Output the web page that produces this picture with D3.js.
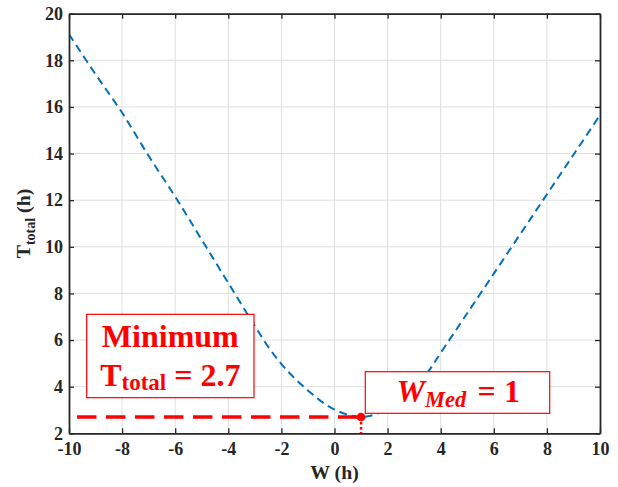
<!DOCTYPE html>
<html>
<head>
<meta charset="utf-8">
<script src="https://cdn.jsdelivr.net/npm/d3@7/dist/d3.min.js"></script>
<style>
  html, body { margin: 0; padding: 0; background: #fff; }
  svg { display: block; }
</style>
</head>
<body>
<svg id="chart" width="618" height="487"></svg>
<script>
// ---- data ----
const wValues = [-10, -9, -8, -7, -6, -5, -4, -3, -2.5, -2, -1.5, -1, -0.5, 0, 0.5, 1, 1.5, 2, 2.5, 3, 3.5, 4, 5, 6, 7, 8, 9, 10];
const tValues = [19.12, 17.4, 15.75, 13.9, 12.15, 10.3, 8.45, 6.6, 5.72, 4.97, 4.36, 3.84, 3.37, 3.02, 2.8, 2.7, 2.8, 3.05, 3.42, 3.95, 4.6, 5.45, 7.15, 8.85, 10.55, 12.25, 13.95, 15.65];
const xTicks = [-10, -8, -6, -4, -2, 0, 2, 4, 6, 8, 10];
const yTicks = [2, 4, 6, 8, 10, 12, 14, 16, 18, 20];
const xDomain = [-10, 10];
const yDomain = [2, 20];
const minW = [1];
const minT = [2.7];
const guideStartW = [-9.7];
const xLabel = "W (h)";
const yLabelMain = ["T", "total", " (h)"];
const box1Lines = ["Minimum", "T", "total", " = 2.7"];
const box2Parts = ["W", "Med", "=", "1"];

// ---- layout ----
const FONT = "'Liberation Serif', 'Times New Roman', serif";
const L = 69, R = 600, T = 13.7, B = 433.3;
const svg = d3.select("#chart");
const x = d3.scaleLinear().domain(xDomain).range([L, R]);
const y = d3.scaleLinear().domain(yDomain).range([B, T]);
const axisColor = "#262626";
const red = "#ff0000";

// grid
const grid = svg.append("g");
grid.selectAll("line.gx").data(xTicks.slice(1, -1)).join("line")
  .attr("x1", d => x(d)).attr("x2", d => x(d)).attr("y1", T).attr("y2", B)
  .attr("stroke", "#dfdfdf").attr("stroke-width", 1);
grid.selectAll("line.gy").data(yTicks.slice(1, -1)).join("line")
  .attr("y1", d => y(d)).attr("y2", d => y(d)).attr("x1", L).attr("x2", R)
  .attr("stroke", "#dfdfdf").attr("stroke-width", 1);

// curve
svg.append("clipPath").attr("id", "clip").append("rect")
  .attr("x", L).attr("y", T).attr("width", R - L).attr("height", B - T);
const pts = wValues.map((w, i) => [w, tValues[i]]);
const line = d3.line().x(d => x(d[0])).y(d => y(d[1])).curve(d3.curveCatmullRom.alpha(0.5));
svg.append("path").datum(pts)
  .attr("clip-path", "url(#clip)")
  .attr("d", line).attr("fill", "none")
  .attr("stroke", "#0072BD").attr("stroke-width", 2)
  .attr("stroke-dasharray", "8,5");

// red guide lines
svg.append("line")
  .attr("x1", x(guideStartW[0])).attr("x2", x(minW[0]))
  .attr("y1", y(minT[0])).attr("y2", y(minT[0]))
  .attr("stroke", red).attr("stroke-width", 3.3).attr("stroke-dasharray", "19.5,9.5");
svg.append("line")
  .attr("x1", x(minW[0])).attr("x2", x(minW[0]))
  .attr("y1", y(minT[0])).attr("y2", B)
  .attr("stroke", red).attr("stroke-width", 2.5).attr("stroke-dasharray", "2.5,2.5");
svg.append("circle")
  .attr("cx", x(minW[0])).attr("cy", y(minT[0])).attr("r", 4.3).attr("fill", red);

// axes
const fs = 18;
const fmt = d => String(d);
const gB = svg.append("g").attr("transform", `translate(0,${B})`)
  .call(d3.axisBottom(x).tickValues(xTicks).tickFormat(fmt).tickSizeInner(-5).tickSizeOuter(0).tickPadding(8.9));
const gL = svg.append("g").attr("transform", `translate(${L},0)`)
  .call(d3.axisLeft(y).tickValues(yTicks).tickFormat(fmt).tickSizeInner(-5).tickSizeOuter(0).tickPadding(6));
const gT = svg.append("g").attr("transform", `translate(0,${T})`)
  .call(d3.axisTop(x).tickValues(xTicks).tickSizeInner(-5).tickSizeOuter(0).tickFormat(""));
const gR = svg.append("g").attr("transform", `translate(${R},0)`)
  .call(d3.axisRight(y).tickValues(yTicks).tickSizeInner(-5).tickSizeOuter(0).tickFormat(""));
[gB, gL, gT, gR].forEach(g => {
  g.select(".domain").attr("stroke", axisColor).attr("stroke-width", 1.8);
  g.selectAll(".tick line").attr("stroke", axisColor).attr("stroke-width", 1.3);
  g.selectAll("text").attr("fill", axisColor)
    .style("font-family", FONT).style("font-size", fs + "px").style("font-weight", "bold");
});

// axis labels
svg.append("text").attr("x", x(0)).attr("y", 478.5)
  .attr("text-anchor", "middle").attr("fill", axisColor)
  .style("font-family", FONT).style("font-size", "19.8px").style("font-weight", "bold")
  .text(xLabel);
const yl = svg.append("text")
  .attr("transform", `translate(30,${(T + B) / 2}) rotate(-90)`)
  .attr("text-anchor", "middle").attr("fill", axisColor)
  .style("font-family", FONT).style("font-size", "19.8px").style("font-weight", "bold");
yl.append("tspan").text(yLabelMain[0]);
yl.append("tspan").style("font-size", "14px").attr("dy", 5).text(yLabelMain[1]);
yl.append("tspan").attr("dy", -5).text(yLabelMain[2]);

// box 1
svg.append("rect").attr("x", 86.7).attr("y", 314.3).attr("width", 167.3).attr("height", 83.4)
  .attr("fill", "#fff").attr("stroke", red).attr("stroke-width", 1.2);
svg.append("text").attr("x", 170.3).attr("y", 346.7).attr("text-anchor", "middle").attr("fill", red)
  .style("font-family", FONT).style("font-size", "32px").style("font-weight", "bold")
  .text(box1Lines[0]);
const t2 = svg.append("text").attr("x", 170.3).attr("y", 386).attr("text-anchor", "middle").attr("fill", red)
  .style("font-family", FONT).style("font-size", "32px").style("font-weight", "bold");
t2.append("tspan").text(box1Lines[1]);
t2.append("tspan").style("font-size", "23px").attr("dy", 3.5).text(box1Lines[2]);
t2.append("tspan").attr("dy", -3.5).text(box1Lines[3]);

// box 2
svg.append("rect").attr("x", 365.3).attr("y", 371.7).attr("width", 184.4).attr("height", 41.6)
  .attr("fill", "#fff").attr("stroke", red).attr("stroke-width", 1.2);
const t3 = svg.append("text").attr("y", 401.7).attr("fill", red)
  .style("font-family", FONT).style("font-size", "32px").style("font-weight", "bold");
t3.append("tspan").attr("x", 396.5).style("font-style", "italic").text(box2Parts[0]);
t3.append("tspan").style("font-style", "italic").style("font-size", "22.5px").attr("dy", 5.5).text(box2Parts[1]);
t3.append("tspan").attr("x", 477.5).attr("dy", -5.5).text(box2Parts[2]);
t3.append("tspan").attr("x", 504).text(box2Parts[3]);
</script>
</body>
</html>
